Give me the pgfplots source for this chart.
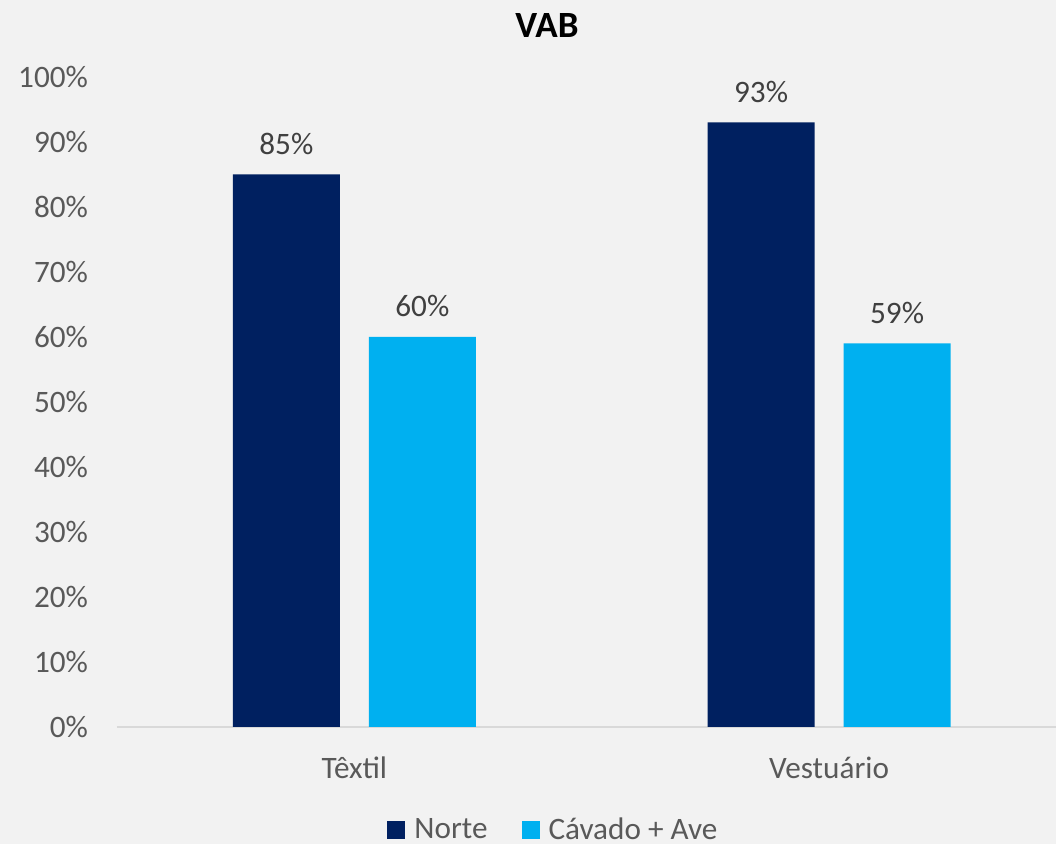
\documentclass[border=0pt]{standalone}
\usepackage{fontspec}
\setmainfont{Carlito}
\usepackage{pgfplots}
\pgfplotsset{compat=1.18}
\definecolor{bg}{HTML}{F2F2F2}
\definecolor{norte}{HTML}{002060}
\definecolor{cavado}{HTML}{00B0F0}
\definecolor{tickgray}{HTML}{595959}
\definecolor{lblgray}{HTML}{404040}
\definecolor{axisgray}{HTML}{D9D9D9}
\begin{document}
\begin{tikzpicture}
\fill[bg] (-58.5pt,-58.5pt) rectangle (469.5pt,363.5pt);
\begin{axis}[
  at={(0pt,0pt)}, anchor=south west,
  scale only axis, width=474.75pt, height=325pt,
  xmin=-0.5, xmax=1.5, ymin=0, ymax=100,
  axis lines*=left,
  x axis line style={draw=axisgray, line width=1.2pt},
  y axis line style={draw=none},
  major tick length=0pt,
  ytick={0,10,...,100},
  yticklabel={\pgfmathprintnumber{\tick}\%},
  xtick={0,1}, xticklabels={Têxtil,Vestuário},
  /pgf/number format/assume math mode=true,
  ticklabel style={font=\fontsize{15.6}{18}\selectfont, text=tickgray},
  yticklabel style={anchor=east, xshift=-11pt},
  xticklabel style={anchor=base, yshift=-26pt},
  ybar=14.5pt, bar width=53.5pt,
  nodes near coords={\pgfmathprintnumber{\pgfplotspointmeta}\%},
  nodes near coords style={anchor=base, yshift=10pt, font=\fontsize{15.6}{18}\selectfont, text=lblgray},
  title={VAB},
  title style={at={(0.4529,1.043)}, anchor=base, yshift=0pt, font=\bfseries\fontsize{18.5}{22}\selectfont, text=black},
  legend columns=2,
  legend style={at={(0.2844,-0.158)}, anchor=west, draw=none, fill=none, inner sep=0pt,
    font=\fontsize{15.6}{18}\selectfont, text=tickgray,
    /tikz/every even column/.append style={column sep=15pt}},
  legend image code/.code={\fill[#1] (0pt,-4.5pt) rectangle (9pt,4.5pt); \path (11.5pt,0pt);},
]
\addplot[draw=none, fill=norte] coordinates {(0,85) (1,93)};
\addlegendentry{Norte}
\addplot[draw=none, fill=cavado] coordinates {(0,60) (1,59)};
\addlegendentry{Cávado + Ave}
\end{axis}
\pgfresetboundingbox
\useasboundingbox (-58.5pt,-58.5pt) rectangle (469.5pt,363.5pt);
\end{tikzpicture}
\end{document}
